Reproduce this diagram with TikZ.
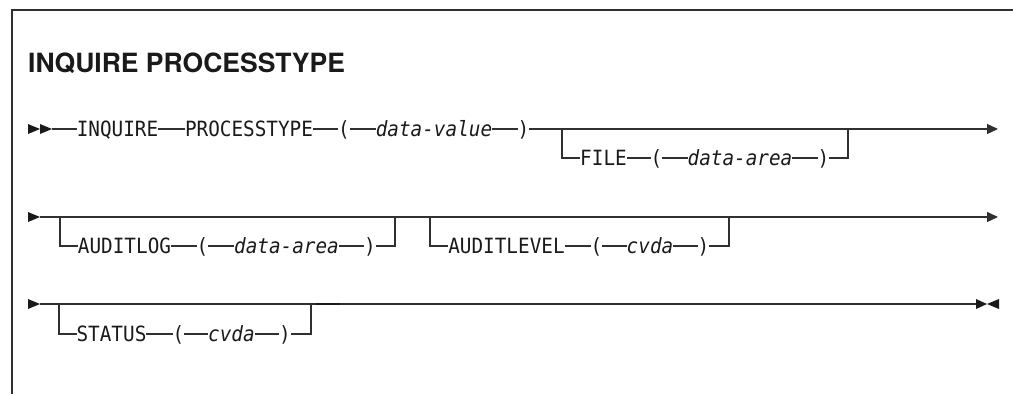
\documentclass[tikz,border=0pt]{standalone}
\usepackage{fontspec}
\usetikzlibrary{arrows.meta}
\newfontfamily\synfont[FakeStretch=0.92]{DejaVu Sans Mono}
\newfontfamily\titlefont{TeX Gyre Heros}
\definecolor{ink}{HTML}{1A1A1A}
\definecolor{rule}{HTML}{303030}
\begin{document}
\begin{tikzpicture}[x=1pt,y=-1pt,
  kw/.style={inner sep=0pt, outer sep=0pt, text height=15.3pt, text depth=0pt,
    font=\synfont\fontsize{21}{24}\selectfont, text=ink},
  var/.style={kw, font=\synfont\itshape\fontsize{21}{24}\selectfont},
  conn/.style={draw=rule, line width=1.2pt},
  endarrow/.style={conn, -{Triangle[length=11pt,width=10pt]}},
  tipfill/.style={fill=ink, draw=none}]
\useasboundingbox (0,0) rectangle (1013,394);

% frame
\coordinate (frTR) at (1013,10);
\coordinate (frTL) at (12,10);
\coordinate (frBL) at (12,394);
\draw[conn] (frTR) -- (frTL) -- (frBL);

% title
\node[anchor=base west, inner sep=0pt, text=ink,
  font=\titlefont\bfseries\fontsize{26.5}{30}\selectfont] (title) at (28,72) {INQUIRE PROCESSTYPE};

% ---------- row 1 ----------
\fill[tipfill] (28,124) -- (40,129) -- (28,134) -- cycle;
\fill[tipfill] (40,124) -- (52,129) -- (40,134) -- cycle;
\coordinate (s1) at (52,129);
\node[kw] (inq) at (117.5,129) {INQUIRE};
\node[kw] (pt) at (249,129) {PROCESSTYPE};
\node[kw] (lp1) at (344,129) {(};
\node[var] (dv) at (434,129) {data-value};
\node[kw] (rp1) at (523.5,129) {)};
\coordinate (j1a) at (562,129);
\coordinate (j1b) at (848,129);
\coordinate (e1) at (998,129);
\draw[conn] (s1) -- (inq);
\draw[conn] (inq) -- (pt);
\draw[conn] (pt) -- (lp1);
\draw[conn] (lp1) -- (dv);
\draw[conn] (dv) -- (rp1);
\draw[endarrow] (rp1) -- (e1);

\node[kw] (file) at (603.5,158) {FILE};
\node[kw] (lpf) at (656.5,158) {(};
\node[var] (daf) at (740,158) {data-area};
\node[kw] (rpf) at (823.5,158) {)};
\draw[conn] (j1a) |- (file);
\draw[conn] (file) -- (lpf);
\draw[conn] (lpf) -- (daf);
\draw[conn] (daf) -- (rpf);
\draw[conn] (rpf) -| (j1b);

% ---------- row 2 ----------
\fill[tipfill] (28,212) -- (40,217) -- (28,222) -- cycle;
\coordinate (s2) at (40,217);
\coordinate (e2) at (998,217);
\draw[endarrow] (s2) -- (e2);

\coordinate (j2a) at (60,217);
\coordinate (j2b) at (395,217);
\node[kw] (alog) at (124.5,246) {AUDITLOG};
\node[kw] (lpa) at (202.5,246) {(};
\node[var] (daa) at (286.5,246) {data-area};
\node[kw] (rpa) at (370,246) {)};
\draw[conn] (j2a) |- (alog);
\draw[conn] (alog) -- (lpa);
\draw[conn] (lpa) -- (daa);
\draw[conn] (daa) -- (rpa);
\draw[conn] (rpa) -| (j2b);

\coordinate (j2c) at (430,217);
\coordinate (j2d) at (729,217);
\node[kw] (alev) at (506.5,246) {AUDITLEVEL};
\node[kw] (lpl) at (596.5,246) {(};
\node[var] (cvl) at (650,246) {cvda};
\node[kw] (rpl) at (703.5,246) {)};
\draw[conn] (j2c) |- (alev);
\draw[conn] (alev) -- (lpl);
\draw[conn] (lpl) -- (cvl);
\draw[conn] (cvl) -- (rpl);
\draw[conn] (rpl) -| (j2d);

% ---------- row 3 ----------
\fill[tipfill] (28,299) -- (40,304) -- (28,309) -- cycle;
\coordinate (s3) at (40,304);
\coordinate (e3) at (976,304);
\draw[conn] (s3) -- (e3);
\fill[tipfill] (976,299) -- (987,304) -- (976,309) -- cycle;
\fill[tipfill] (999,299) -- (987,304) -- (999,309) -- cycle;

\coordinate (j3a) at (59,304);
\coordinate (j3b) at (311,304);
\node[kw] (stat) at (111.5,334) {STATUS};
\node[kw] (lps) at (178.5,334) {(};
\node[var] (cvs) at (231.5,334) {cvda};
\node[kw] (rps) at (285,334) {)};
\draw[conn] (j3a) |- (stat);
\draw[conn] (stat) -- (lps);
\draw[conn] (lps) -- (cvs);
\draw[conn] (cvs) -- (rps);
\draw[conn] (rps) -| (j3b);

\coordinate (tk1) at (316,304);
\coordinate (tk2) at (340,304);
\draw[draw=ink, line width=2.4pt] (tk1) -- (tk2);
\end{tikzpicture}
\end{document}
